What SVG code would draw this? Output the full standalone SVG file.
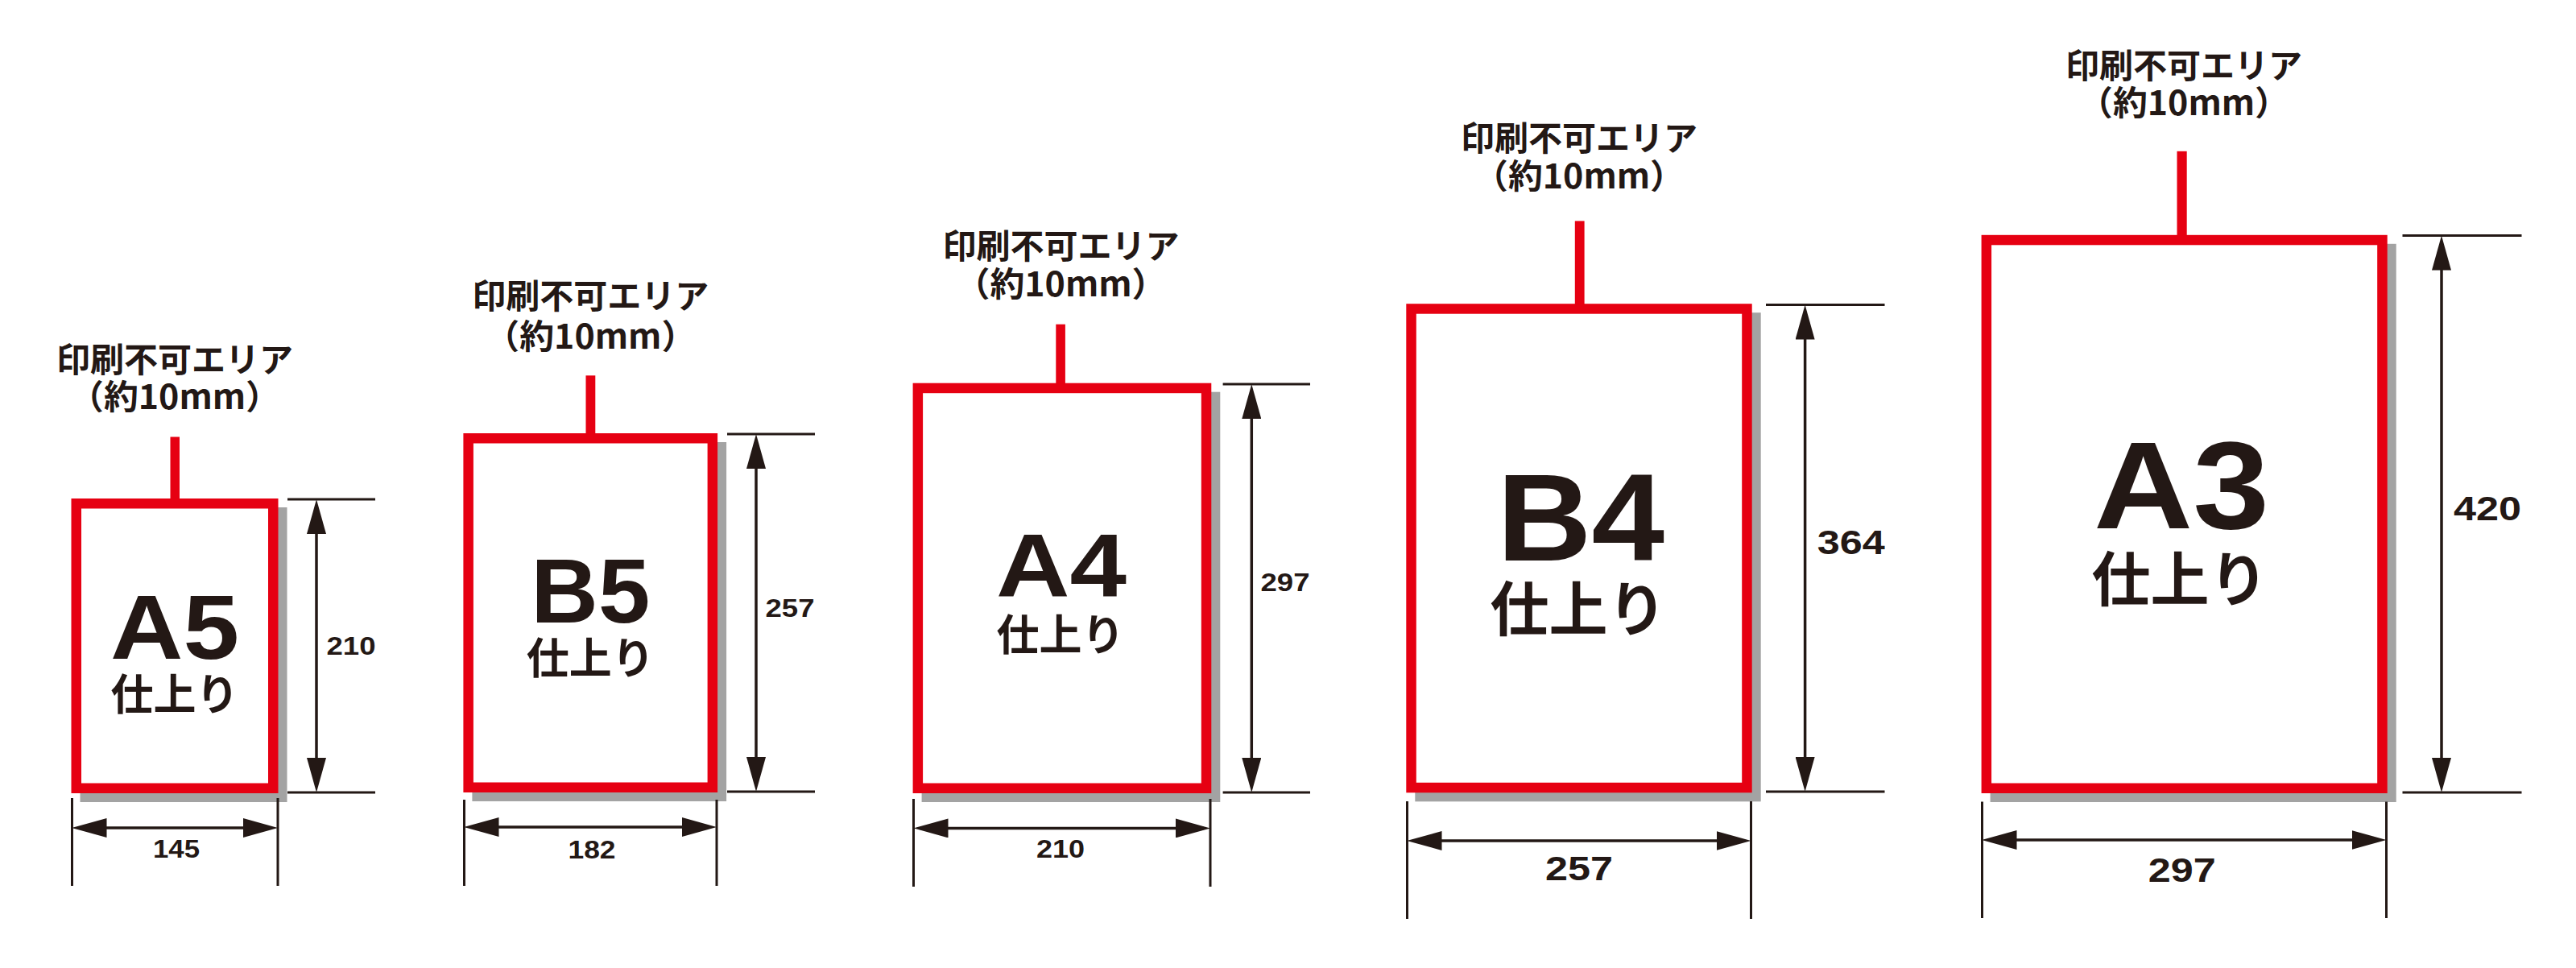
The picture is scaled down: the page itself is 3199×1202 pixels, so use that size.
<svg xmlns="http://www.w3.org/2000/svg" width="3199" height="1202" viewBox="0 0 3199 1202">
<style>
.shadow{fill:#a3a3a3}
.frame{fill:#fff;stroke:#e60012;stroke-width:12.5}
.stub{fill:#e60012}
.note{font-family:"Noto Sans CJK JP",sans-serif;font-weight:700;font-size:42px;fill:#231815;text-anchor:middle}
.big{font-family:"Liberation Sans",sans-serif;font-weight:700;fill:#231815;text-anchor:middle}
.fin{font-family:"Noto Sans CJK JP",sans-serif;font-weight:700;fill:#231815;text-anchor:middle}
.dimt{font-family:"Liberation Sans",sans-serif;font-weight:700;fill:#231815;text-anchor:middle}
.ext{stroke:#231815;stroke-width:3;fill:none}
.dim{stroke:#231815;stroke-width:3.5;fill:none;marker-start:url(#arr);marker-end:url(#arr)}
</style>
<defs>
<marker id="arr" viewBox="0 0 43 24" refX="35" refY="12" markerWidth="43" markerHeight="24" markerUnits="userSpaceOnUse" orient="auto-start-reverse">
<path d="M0,0 L43,12 L0,24 Z" fill="#231815"/>
</marker>
</defs>
<rect width="3199" height="1202" fill="#fff"/>

<g id="node-a5">
<rect class="shadow" x="99.5" y="630" width="257" height="366"/>
<rect class="frame" x="94.75" y="625.25" width="244.5" height="353.5"/>
<rect class="stub" x="211.5" y="542.5" width="11.5" height="78"/>
<text class="note" x="217" y="462">印刷不可エリア</text>
<text class="note" x="217" y="507.5" textLength="262" lengthAdjust="spacingAndGlyphs">（約10mm）</text>
<text class="big" x="217" y="817.6" font-size="114" textLength="160" lengthAdjust="spacingAndGlyphs">A5</text>
<text class="fin" x="217" y="882" font-size="53">仕上り</text>
</g>

<g id="node-b5">
<rect class="shadow" x="586.4" y="549" width="315.7" height="446"/>
<rect class="frame" x="581.65" y="544.25" width="303.2" height="433.5"/>
<rect class="stub" x="727.5" y="466.3" width="11.8" height="73"/>
<text class="note" x="733.3" y="383">印刷不可エリア</text>
<text class="note" x="733.3" y="433" textLength="262" lengthAdjust="spacingAndGlyphs">（約10mm）</text>
<text class="big" x="733.3" y="773.3" font-size="114" textLength="148" lengthAdjust="spacingAndGlyphs">B5</text>
<text class="fin" x="733.3" y="837" font-size="53">仕上り</text>
</g>

<g id="node-a4">
<rect class="shadow" x="1144.6" y="486.7" width="370.7" height="509.3"/>
<rect class="frame" x="1139.85" y="481.95" width="358.2" height="496.8"/>
<rect class="stub" x="1311.3" y="402.7" width="11.6" height="74"/>
<text class="note" x="1317.5" y="321">印刷不可エリア</text>
<text class="note" x="1317.5" y="368" textLength="262" lengthAdjust="spacingAndGlyphs">（約10mm）</text>
<text class="big" x="1318" y="741" font-size="112" textLength="162" lengthAdjust="spacingAndGlyphs">A4</text>
<text class="fin" x="1317" y="808" font-size="53">仕上り</text>
</g>

<g id="node-b4">
<rect class="shadow" x="1757.3" y="388.2" width="429.4" height="607.1"/>
<rect class="frame" x="1752.55" y="383.45" width="416.9" height="594.6"/>
<rect class="stub" x="1955.8" y="274.4" width="11.8" height="104"/>
<text class="note" x="1961" y="187">印刷不可エリア</text>
<text class="note" x="1961" y="233.5" textLength="262" lengthAdjust="spacingAndGlyphs">（約10mm）</text>
<text class="big" x="1963" y="696" font-size="154" textLength="208" lengthAdjust="spacingAndGlyphs">B4</text>
<text class="fin" x="1960" y="783" font-size="73">仕上り</text>
</g>

<g id="node-a3">
<rect class="shadow" x="2471.6" y="302.8" width="504.1" height="693.2"/>
<rect class="frame" x="2466.85" y="298.05" width="491.6" height="680.7"/>
<rect class="stub" x="2703.5" y="187.8" width="12.2" height="105"/>
<text class="note" x="2712" y="96.5">印刷不可エリア</text>
<text class="note" x="2712" y="142.5" textLength="262" lengthAdjust="spacingAndGlyphs">（約10mm）</text>
<text class="big" x="2709" y="656" font-size="154" textLength="218" lengthAdjust="spacingAndGlyphs">A3</text>
<text class="fin" x="2707" y="746" font-size="73">仕上り</text>
</g>

<g id="connectors">
<path class="ext" d="M357,620H466M357,984H466M89.5,991V1100M345,991V1100"/>
<path class="dim" d="M393,628V976"/>
<path class="dim" d="M97.5,1028H337"/>
<text class="dimt" x="436" y="813" font-size="32" textLength="61" lengthAdjust="spacingAndGlyphs">210</text>
<text class="dimt" x="219" y="1065" font-size="32" textLength="58" lengthAdjust="spacingAndGlyphs">145</text>
<path class="ext" d="M903,539H1012M903,983H1012M576.5,993V1100M890,993V1100"/>
<path class="dim" d="M939,547V975"/>
<path class="dim" d="M584.5,1027H882"/>
<text class="dimt" x="981" y="765.5" font-size="32" textLength="61" lengthAdjust="spacingAndGlyphs">257</text>
<text class="dimt" x="735" y="1066" font-size="32" textLength="59" lengthAdjust="spacingAndGlyphs">182</text>
<path class="ext" d="M1518.6,477H1627M1518.6,984H1627M1134.5,992V1101M1503,992V1101"/>
<path class="dim" d="M1554.3,485V976"/>
<path class="dim" d="M1142.5,1028.4H1495"/>
<text class="dimt" x="1596" y="734" font-size="32" textLength="61" lengthAdjust="spacingAndGlyphs">297</text>
<text class="dimt" x="1317" y="1065" font-size="32" textLength="60" lengthAdjust="spacingAndGlyphs">210</text>
<path class="ext" d="M2193,378.5H2340.5M2193,983H2340.5M1747.5,995V1141M2174.5,995V1141"/>
<path class="dim" d="M2241.6,386.5V975"/>
<path class="dim" d="M1755.5,1044H2166.5"/>
<text class="dimt" x="2298.7" y="688" font-size="42" textLength="84" lengthAdjust="spacingAndGlyphs">364</text>
<text class="dimt" x="1961" y="1093" font-size="42" textLength="84" lengthAdjust="spacingAndGlyphs">257</text>
<path class="ext" d="M2983.5,292.5H3131.5M2983.5,984H3131.5M2461.5,995.5V1140M2963.5,995.5V1140"/>
<path class="dim" d="M3032,300.5V976"/>
<path class="dim" d="M2469.5,1043H2955.5"/>
<text class="dimt" x="3089" y="646" font-size="42" textLength="84" lengthAdjust="spacingAndGlyphs">420</text>
<text class="dimt" x="2709.7" y="1095" font-size="42" textLength="84" lengthAdjust="spacingAndGlyphs">297</text>
</g>
</svg>
